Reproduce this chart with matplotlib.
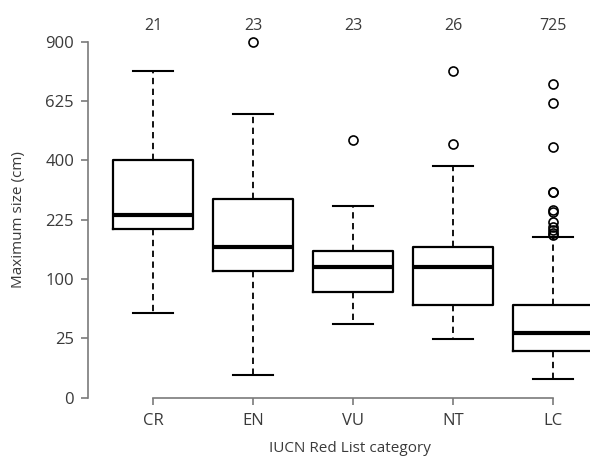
import numpy as np
import matplotlib
matplotlib.use("Agg")
import matplotlib.pyplot as plt

# Box statistics (cm)
categories = ["CR", "EN", "VU", "NT", "LC"]
counts = [21, 23, 23, 26, 725]
whisker_low = [50.6, 3.7, 38.9, 24.7, 2.4]
q1 = [201, 114.5, 79.4, 61, 15.3]
median = [236, 160.6, 120.8, 120.8, 29.7]
q3 = [400, 280, 152, 162, 60.6]
whisker_high = [759, 573, 260, 380, 182.7]
outliers = [
    [],
    [900],
    [470],
    [756, 457],
    [700, 617, 445, 300, 299, 250, 245, 220, 208, 200, 192, 188],
]
yticks = [0, 25, 100, 225, 400, 625, 900]

plt.rcParams['font.family'] = ['Open Sans', 'DejaVu Sans']
txt = '#3a3a3a'
axcol = '#7a7a7a'

fig = plt.figure(figsize=(5.9, 4.57), dpi=100)
ax = fig.add_axes([0.149, 0.1298, 0.851, 0.779])

stats = []
for i, c in enumerate(categories):
    stats.append(dict(label=c, whislo=whisker_low[i], q1=q1[i], med=median[i],
                      q3=q3[i], whishi=whisker_high[i], fliers=outliers[i]))

# square-root y axis
ax.set_yscale('function', functions=(lambda v: np.sqrt(np.clip(v, 0, None)),
                                     lambda v: np.square(v)))

ax.bxp(stats, positions=range(1, 6), widths=0.8, showfliers=True,
       boxprops=dict(color='black', linewidth=1.6),
       medianprops=dict(color='black', linewidth=3.0),
       whiskerprops=dict(color='black', linewidth=1.3, linestyle=(0, (3.5, 2.5))),
       capprops=dict(color='black', linewidth=1.5),
       capwidths=0.4,
       flierprops=dict(marker='o', markersize=6.5, markerfacecolor='none',
                       markeredgecolor='black', markeredgewidth=1.2))
for art in ax.get_children():
    if isinstance(art, matplotlib.lines.Line2D):
        art.set_clip_on(False)

ax.set_ylim(0, 900)
ax.set_xlim(0.35, 5.37)
ax.set_yticks(yticks)
ax.set_yticklabels([str(t) for t in yticks])
ax.set_xticks(range(1, 6))
ax.set_xticklabels(categories)

for s in ['top', 'right']:
    ax.spines[s].set_visible(False)
ax.spines['left'].set_bounds(0, 900)
ax.spines['bottom'].set_bounds(1, 5)
for s in ['left', 'bottom']:
    ax.spines[s].set_color(axcol)
    ax.spines[s].set_linewidth(1.2)
ax.tick_params(colors=axcol, labelcolor=txt, labelsize=12, length=5, width=1.2)
ax.tick_params(axis='y', pad=5)
ax.tick_params(axis='x', pad=6)

for i, n in enumerate(counts):
    ax.text(i + 1, 1.045, str(n), transform=ax.get_xaxis_transform(),
            ha='center', va='center', fontsize=11.5, color=txt)

ax.set_ylabel('Maximum size (cm)', fontsize=11, color=txt)
ax.yaxis.set_label_coords(-0.123, 0.5)
fig.text(350 / 590, 1 - 448 / 457, 'IUCN Red List category', ha='center',
         va='center', fontsize=11, color=txt)

fig.savefig('out.png', dpi=100)
